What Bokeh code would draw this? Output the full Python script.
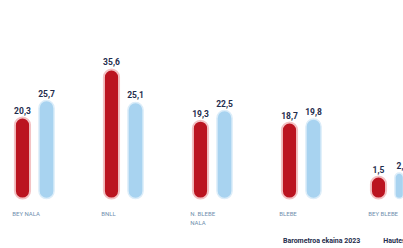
from bokeh.plotting import figure
from bokeh.models import Range1d, ColumnDataSource, Legend, LegendItem
from bokeh.embed import file_html
from bokeh.resources import INLINE
from bokeh.core.properties import value

categories = ["BEY NALA", "BNLL", "N. BLEBE\nNALA", "BLEBE", "BEY BLEBE"]
barometro = [20.3, 35.6, 19.3, 18.7, 1.5]
elecciones = [25.7, 25.1, 22.5, 19.8, 2.6]
series_names = ["Barometroa ekaina 2023", "Hauteskundeak 2020"]

RED = "#bb1420"
BLUE = "#a8d3f0"
BASE = -5.5
idx = list(range(len(categories)))
off = 0.135
bw = 0.17

def fmt(v):
    return f"{v:.1f}".replace(".", ",")

src_r = ColumnDataSource(dict(x=[i - off for i in idx], top=barometro, lab=[fmt(v) for v in barometro]))
src_b = ColumnDataSource(dict(x=[i + off for i in idx], top=elecciones, lab=[fmt(v) for v in elecciones]))
src_c = ColumnDataSource(dict(x=[i - off - bw / 2 - 0.03 for i in idx], y=[-9.0] * len(idx), lab=categories))

p = figure(width=403, height=248, output_backend="svg", toolbar_location=None,
           x_range=Range1d(-0.382, 4.146), y_range=Range1d(-21.4, 57.56),
           min_border=0, min_border_left=0, min_border_right=0, min_border_top=0, min_border_bottom=0)
p.axis.visible = False
p.grid.visible = False
p.outline_line_color = None
p.background_fill_color = "white"

p.vbar(x="x", top="top", bottom=BASE, width=bw, source=src_r, fill_color=RED,
       line_color="#f3c2c4", line_width=2, border_radius=8)
p.vbar(x="x", top="top", bottom=BASE, width=bw, source=src_b, fill_color=BLUE,
       line_color="#dcedf9", line_width=1.5, border_radius=8)

for s in (src_r, src_b):
    p.text(x="x", y="top", text="lab", source=s, text_align="center", text_baseline="bottom",
           y_offset=-4, text_font=value("Roboto"), text_font_style="bold",
           text_font_size="8.5px", text_color="#1f2d4d")

p.text(x="x", y="y", text="lab", source=src_c, text_align="left", text_baseline="top",
       text_font=value("Roboto"), text_font_size="6px", text_color="#6f8fae",
       text_line_height=1.3)

r1 = p.scatter(x=[], y=[], marker="circle", size=8, fill_color=RED, line_color=RED)
r2 = p.scatter(x=[], y=[], marker="circle", size=8, fill_color=BLUE, line_color=BLUE)
legend = Legend(items=[LegendItem(label=series_names[0], renderers=[r1]),
                       LegendItem(label=series_names[1], renderers=[r2])],
                location=(270, 2), orientation="horizontal",
                label_text_font="Roboto", label_text_font_style="bold",
                label_text_font_size="7px", label_text_color="#1f2d4d",
                glyph_width=10, glyph_height=10, label_standoff=3,
                label_height=10,
                padding=0, margin=0, spacing=10,
                background_fill_alpha=0, border_line_alpha=0)
p.add_layout(legend, "center")

open("out.html", "w").write(file_html(p, INLINE))
